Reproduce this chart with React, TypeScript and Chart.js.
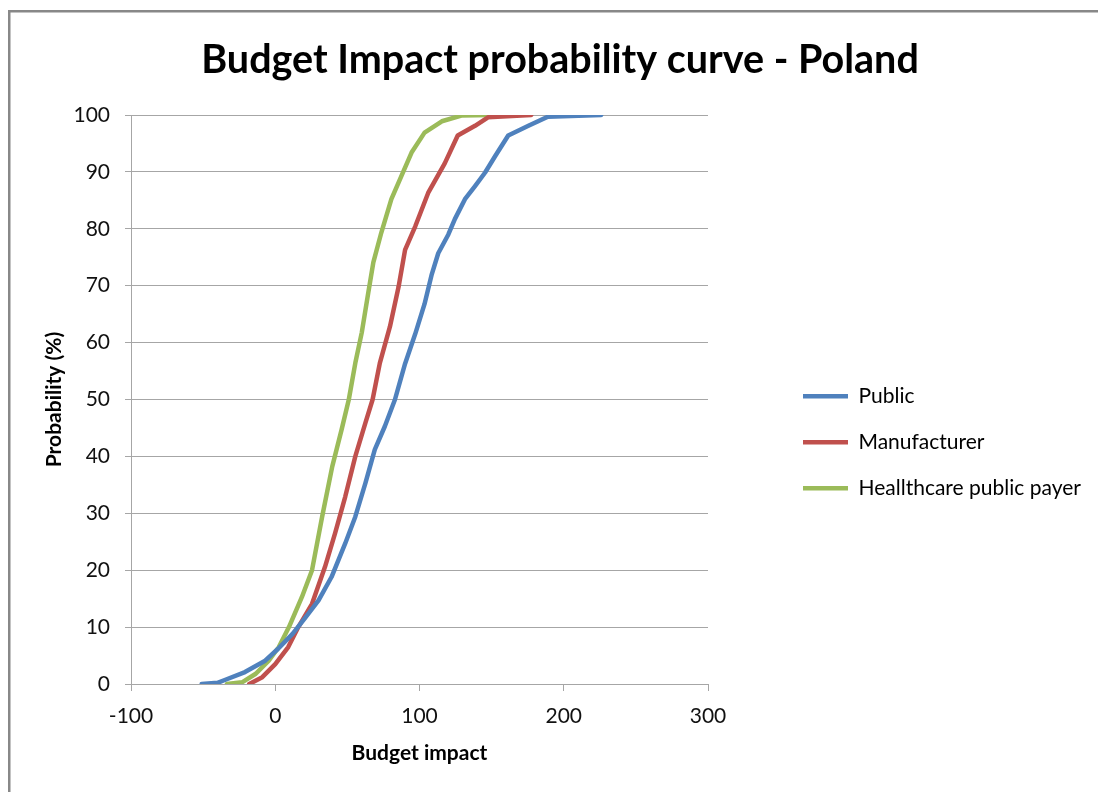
import React, { useEffect, useRef } from "react";
import { Chart, registerables } from "chart.js";

Chart.register(...registerables);

const TITLE = "Budget Impact probability curve - Poland";
const X_TITLE = "Budget impact";
const Y_TITLE = "Probability (%)";
const SERIES_NAMES = ["Public", "Manufacturer", "Heallthcare public payer"];
const SERIES_COLORS = ["#4F81BD", "#C0504D", "#9BBB59"];

const X_MIN = -100;
const X_MAX = 300;
const X_STEP = 100;
const Y_MIN = 0;
const Y_MAX = 100;
const Y_STEP = 10;

// Public
const publicX = [-51, -40, -35, -21, -7, 2, 12, 21, 30, 39, 48.5, 55.5, 62.5, 69, 76, 83, 90, 97, 103.5, 108.5, 113, 120, 124.5, 131.5, 138.5, 145.5, 152.5, 161.5, 175.5, 189, 226];
const publicY = [0, 0.2, 0.7, 2.1, 4.1, 6.2, 8.8, 11.7, 14.7, 18.8, 24.7, 29.4, 35.3, 41.2, 45.3, 50, 56.3, 61.5, 66.8, 72, 75.7, 79, 81.7, 85.2, 87.5, 89.9, 92.8, 96.4, 98.1, 99.7, 100];

// Manufacturer
const manufacturerX = [-18, -9, 0, 9, 16, 25.5, 34.5, 41.5, 48.5, 55.5, 62.5, 67.5, 72.5, 79.5, 85.5, 90, 97, 106, 117.5, 126.5, 138.5, 147.5, 177.5];
const manufacturerY = [0, 1.2, 3.5, 6.5, 10, 14.1, 20.6, 26.5, 32.9, 40, 45.9, 50, 56.4, 62.8, 69.8, 76.3, 80.4, 86.3, 91.5, 96.4, 98.1, 99.6, 100];

// Healthcare public payer
const payerX = [-33.5, -23, -13.5, -4.5, 2.5, 9.5, 18.5, 25.5, 32.5, 39.5, 46, 51, 55.5, 60, 64.5, 68, 73.5, 80.5, 87.5, 94.5, 103.5, 115.5, 129, 149.5];
const payerY = [0, 0.3, 1.8, 4.1, 6.5, 10, 15.3, 20, 29.4, 38.2, 44.7, 50, 56.4, 61.8, 68.8, 74.1, 79.3, 85.2, 89.3, 93.4, 96.9, 98.9, 99.9, 100];

const SERIES_X = [publicX, manufacturerX, payerX];
const SERIES_Y = [publicY, manufacturerY, payerY];

const FONT = "Lato, 'Open Sans', sans-serif";

// layout sizes (px)
const PAD_LEFT = 22;
const PAD_TOP = 36.4;
const PAD_BOTTOM = 26.4;
const Y_AXIS_W = 109;
const X_AXIS_H = 81.6;
const SPACER_W = 70;
const LEGEND_W = 320;

const framePlugin = {
  id: "frame",
  beforeDraw(chart: any) {
    const ctx = chart.ctx;
    ctx.save();
    ctx.fillStyle = "#ffffff";
    ctx.fillRect(0, 0, chart.width, chart.height);
    ctx.fillStyle = "#888888";
    ctx.fillRect(8, 10, chart.width - 8, 2.5);
    ctx.fillRect(8, 10, 2.5, chart.height - 10);
    ctx.restore();
  },
};

const legendWidthPlugin = {
  id: "legendWidth",
  beforeLayout(chart: any) {
    const lg = chart.legend;
    if (lg && !lg.__patched) {
      const fit = lg.fit;
      lg.fit = function () {
        fit.call(this);
        this.width = LEGEND_W;
      };
      lg.__patched = true;
    }
  },
};

export default function App() {
  const ref = useRef<HTMLCanvasElement | null>(null);

  useEffect(() => {
    if (!ref.current) return;
    const datasets = SERIES_NAMES.map((name, i) => ({
      label: name,
      data: SERIES_X[i].map((x, j) => ({ x, y: SERIES_Y[i][j] })),
      borderColor: SERIES_COLORS[i],
      backgroundColor: SERIES_COLORS[i],
      borderWidth: 4.5,
      showLine: true,
      pointRadius: 0,
      tension: 0,
      xAxisID: "x",
      yAxisID: "y",
      borderCapStyle: "round" as const,
      borderJoinStyle: "round" as const,
    }));

    const chart = new Chart(ref.current, {
      type: "scatter",
      data: { datasets },
      plugins: [framePlugin, legendWidthPlugin],
      options: {
        responsive: false,
        animation: false,
        layout: { padding: { left: PAD_LEFT, right: 0, top: PAD_TOP, bottom: PAD_BOTTOM } },
        plugins: {
          tooltip: { enabled: false },
          title: {
            display: true,
            text: TITLE,
            color: "#000",
            font: { family: FONT, size: 39.5, weight: "bold" },
            padding: { top: 0, bottom: 31.2 },
          },
          legend: {
            position: "right",
            align: "center",
            title: { display: true, text: "", font: { size: 12 }, padding: { top: 68, bottom: 0 } },
            labels: {
              usePointStyle: true,
              pointStyle: "line",
              pointStyleWidth: 45,
              color: "#000",
              font: { family: FONT, size: 21 },
              padding: 25,
            },
          },
        },
        scales: {
          x: {
            type: "linear",
            min: X_MIN,
            max: X_MAX,
            afterFit: (s: any) => {
              s.height = X_AXIS_H;
            },
            ticks: { stepSize: X_STEP, color: "#111", font: { family: FONT, size: 21 }, padding: 13 },
            grid: { drawOnChartArea: false, drawTicks: true, tickLength: 7, color: "#a6a6a6" },
            border: { color: "#a6a6a6", width: 1 },
            title: {
              display: true,
              text: X_TITLE,
              color: "#000",
              font: { family: FONT, size: 21, weight: "bold" },
              padding: { top: 0, bottom: 0 },
            },
          },
          y: {
            type: "linear",
            position: "left",
            min: Y_MIN,
            max: Y_MAX,
            afterFit: (s: any) => {
              s.width = Y_AXIS_W;
            },
            ticks: { stepSize: Y_STEP, color: "#111", font: { family: FONT, size: 21 }, padding: 15 },
            grid: { color: "#a6a6a6", tickLength: 6 },
            border: { color: "#a6a6a6", width: 1 },
            title: {
              display: true,
              text: Y_TITLE,
              color: "#000",
              font: { family: FONT, size: 21, weight: "bold" },
              padding: { top: 19.4, bottom: 0 },
            },
          },
          yPad: {
            type: "linear",
            position: "right",
            display: true,
            afterFit: (s: any) => {
              s.width = SPACER_W;
            },
            ticks: { display: false },
            grid: { display: false, drawTicks: false },
            border: { display: false },
          },
        },
      },
    });
    return () => chart.destroy();
  }, []);

  return (
    <div style={{ position: "fixed", left: 0, top: 0, width: 1098, height: 792, background: "#fff" }}>
      <canvas ref={ref} width={1098} height={792} style={{ display: "block" }} />
    </div>
  );
}
